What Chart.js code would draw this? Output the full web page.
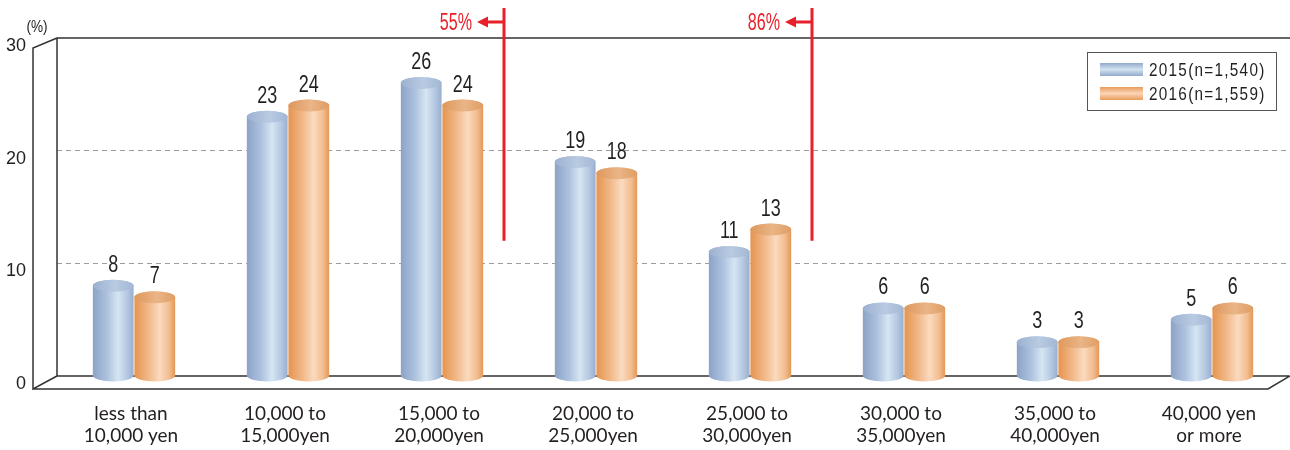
<!DOCTYPE html>
<html>
<head>
<meta charset="utf-8">
<script src="https://cdn.jsdelivr.net/npm/chart.js@4.4.1/dist/chart.umd.min.js"></script>
<style>
  html, body { margin: 0; padding: 0; background: #fff; }
  canvas { display: block; }
</style>
</head>
<body>
<canvas id="c" width="1290" height="450"></canvas>
<script>
// Monthly amount categories (two-line labels)
const categories = [
  ['less than', '10,000 yen'],
  ['10,000 to', '15,000yen'],
  ['15,000 to', '20,000yen'],
  ['20,000 to', '25,000yen'],
  ['25,000 to', '30,000yen'],
  ['30,000 to', '35,000yen'],
  ['35,000 to', '40,000yen'],
  ['40,000 yen', 'or more']
];
const seriesNames = ['2015(n=1,540)', '2016(n=1,559)'];
const values2015 = [8, 23, 26, 19, 11, 6, 3, 5];
const values2016 = [7, 24, 24, 18, 13, 6, 3, 6];
const yTicks = [0, 10, 20, 30];
// cumulative 2016 share is marked after this many categories
const bracketEnds = [3, 5];

const SANS = '"Liberation Sans", Arial, sans-serif';
const LABEL = 'Lato, "Open Sans", sans-serif';
const INK = '#231f20';
const RED = '#e8202a';

const palettes = [
  { // blue cylinders
    body: [[0, '#8ca3c7'], [0.35, '#adc2de'], [0.62, '#d5e5f2'], [0.85, '#b3c7e0'], [1, '#98aed0']],
    top:  [[0, '#9cb1d1'], [0.55, '#b9cbe2'], [1, '#a3b7d5']],
    swatch: [[0, '#93a9cb'], [0.5, '#d3e3f1'], [1, '#93a9cb']]
  },
  { // orange cylinders
    body: [[0, '#e6944f'], [0.35, '#f1b98a'], [0.62, '#fbdabf'], [0.85, '#f2bd90'], [1, '#e39858']],
    top:  [[0, '#de985c'], [0.55, '#eab587'], [1, '#e09d63']],
    swatch: [[0, '#e99c5c'], [0.5, '#fbd5b6'], [1, '#e99c5c']]
  }
];

function grad(ctx, x0, y0, x1, y1, stops) {
  const g = ctx.createLinearGradient(x0, y0, x1, y1);
  stops.forEach(([s, c]) => g.addColorStop(s, c));
  return g;
}

// condensed text: regular sans squeezed horizontally
function narrowText(ctx, text, x, y, size, align, sx, color, spacing) {
  ctx.save();
  ctx.translate(x, y);
  ctx.scale(sx, 1);
  ctx.font = size + 'px ' + SANS;
  ctx.textAlign = align;
  ctx.textBaseline = 'alphabetic';
  if (spacing && 'letterSpacing' in ctx) ctx.letterSpacing = spacing + 'px';
  ctx.fillStyle = color;
  ctx.fillText(text, 0, 0);
  ctx.restore();
}

function cylinder(ctx, cx, w, top, base, pal) {
  const rx = w / 2, ry = 6, x0 = cx - rx, x1 = cx + rx;
  ctx.save();
  ctx.beginPath();
  ctx.moveTo(x0, top);
  ctx.lineTo(x0, base);
  ctx.ellipse(cx, base, rx, ry, 0, Math.PI, 0, true);
  ctx.lineTo(x1, top);
  ctx.ellipse(cx, top, rx, ry, 0, 0, Math.PI, true);
  ctx.closePath();
  ctx.fillStyle = grad(ctx, x0, 0, x1, 0, pal.body);
  ctx.fill();
  ctx.beginPath();
  ctx.ellipse(cx, top, rx, ry, 0, 0, Math.PI * 2);
  ctx.fillStyle = grad(ctx, x0, 0, x1, 0, pal.top);
  ctx.fill();
  ctx.restore();
}

// 3-D box: back wall, left side wall and floor
const framePlugin = {
  id: 'frame3d',
  beforeDatasetsDraw(chart) {
    const { ctx, chartArea: a } = chart;
    const dx = -24, dyTop = 10, dyBot = 13;
    ctx.save();
    ctx.strokeStyle = '#333';
    ctx.lineWidth = 1.5;
    ctx.beginPath();
    // back wall
    ctx.moveTo(chart.width, a.top); ctx.lineTo(a.left, a.top); ctx.lineTo(a.left, a.bottom); ctx.lineTo(a.right, a.bottom);
    // side wall
    ctx.moveTo(a.left, a.top); ctx.lineTo(a.left + dx, a.top + dyTop); ctx.lineTo(a.left + dx, a.bottom + dyBot); ctx.lineTo(a.left, a.bottom);
    // floor
    ctx.moveTo(a.left + dx, a.bottom + dyBot); ctx.lineTo(a.right - 21, a.bottom + dyBot); ctx.lineTo(a.right + 1, a.bottom);
    ctx.stroke();
    ctx.restore();
  },
  afterDatasetsDraw(chart) {
    const { ctx } = chart;
    const xs = chart.scales.x, ys = chart.scales.y;

    // cylinders
    chart.data.datasets.forEach((ds, di) => {
      chart.getDatasetMeta(di).data.forEach(bar => {
        cylinder(ctx, bar.x, bar.width, bar.y, bar.base, palettes[di]);
      });
    });
    // value labels
    chart.data.datasets.forEach((ds, di) => {
      chart.getDatasetMeta(di).data.forEach((bar, i) => {
        narrowText(ctx, String(ds.data[i]), bar.x, bar.y - 14, 23, 'center', 0.78, INK);
      });
    });

    // unit label
    narrowText(ctx, '(%)', 37, 32, 17, 'center', 0.8, INK);

    // cumulative share markers
    ctx.save();
    ctx.strokeStyle = RED;
    ctx.fillStyle = RED;
    ctx.lineWidth = 3;
    bracketEnds.forEach(k => {
      const cum = values2016.slice(0, k).reduce((s, v) => s + v, 0);
      const xb = Math.round((xs.getPixelForValue(k - 1) + xs.getPixelForValue(k)) / 2) - 15;
      const ay = 22;
      ctx.beginPath();
      ctx.moveTo(xb, 8); ctx.lineTo(xb, ys.getPixelForValue(12));
      ctx.moveTo(xb, ay); ctx.lineTo(xb - 17, ay);
      ctx.stroke();
      ctx.beginPath();
      ctx.moveTo(xb - 27, ay); ctx.lineTo(xb - 16, ay - 5.5); ctx.lineTo(xb - 16, ay + 5.5);
      ctx.closePath(); ctx.fill();
      narrowText(ctx, cum + '%', xb - 32, ay + 8, 23, 'right', 0.7, RED);
    });
    ctx.restore();

    // legend box
    ctx.save();
    const lx = 1087, ly = 52, lw = 189, lh = 58;
    ctx.fillStyle = '#fff';
    ctx.fillRect(lx, ly, lw, lh);
    ctx.strokeStyle = '#555';
    ctx.lineWidth = 1;
    ctx.strokeRect(lx + 0.5, ly + 0.5, lw, lh);
    chart.data.datasets.forEach((ds, di) => {
      const sy = ly + 11 + di * 24;
      ctx.fillStyle = grad(ctx, 0, sy, 0, sy + 13, palettes[di].swatch);
      ctx.fillRect(1100, sy, 43, 13);
      narrowText(ctx, ds.label, 1149, sy + 13, 18, 'left', 0.85, INK, 1.5);
    });
    ctx.restore();
  }
};

new Chart(document.getElementById('c'), {
  type: 'bar',
  data: {
    labels: categories,
    datasets: [
      { label: seriesNames[0], data: values2015, backgroundColor: 'rgba(0,0,0,0)', borderWidth: 0 },
      { label: seriesNames[1], data: values2016, backgroundColor: 'rgba(0,0,0,0)', borderWidth: 0 }
    ]
  },
  options: {
    responsive: false,
    animation: false,
    devicePixelRatio: 1,
    layout: { padding: { top: 38, right: 1, left: 0, bottom: 0 } },
    datasets: { bar: { categoryPercentage: 0.54, barPercentage: 0.98 } },
    plugins: { legend: { display: false }, tooltip: { enabled: false } },
    scales: {
      x: {
        grid: { display: false, drawTicks: false },
        border: { display: false },
        ticks: {
          padding: 27,
          labelOffset: -3,
          maxRotation: 0,
          autoSkip: false,
          color: INK,
          font: { family: LABEL, size: 19, lineHeight: 1.15 }
        },
        afterFit(s) { s.height = 74; s.paddingLeft = 0; s.paddingRight = 0; }
      },
      y: {
        min: 0,
        max: 30,
        afterBuildTicks(s) { s.ticks = yTicks.map(v => ({ value: v })); },
        grid: {
          drawTicks: false,
          lineWidth: 1,
          color: c => (c.tick && (c.tick.value === 0 || c.tick.value === 30)) ? 'rgba(0,0,0,0)' : '#9c9c9c'
        },
        border: { display: false, dash: [5, 4] },
        ticks: {
          padding: 31,
          labelOffset: 8,
          color: INK,
          font: { family: SANS, size: 18 }
        },
        afterFit(s) { s.width = 57; s.paddingTop = 0; s.paddingBottom = 0; }
      }
    }
  },
  plugins: [framePlugin]
});
</script>
</body>
</html>
